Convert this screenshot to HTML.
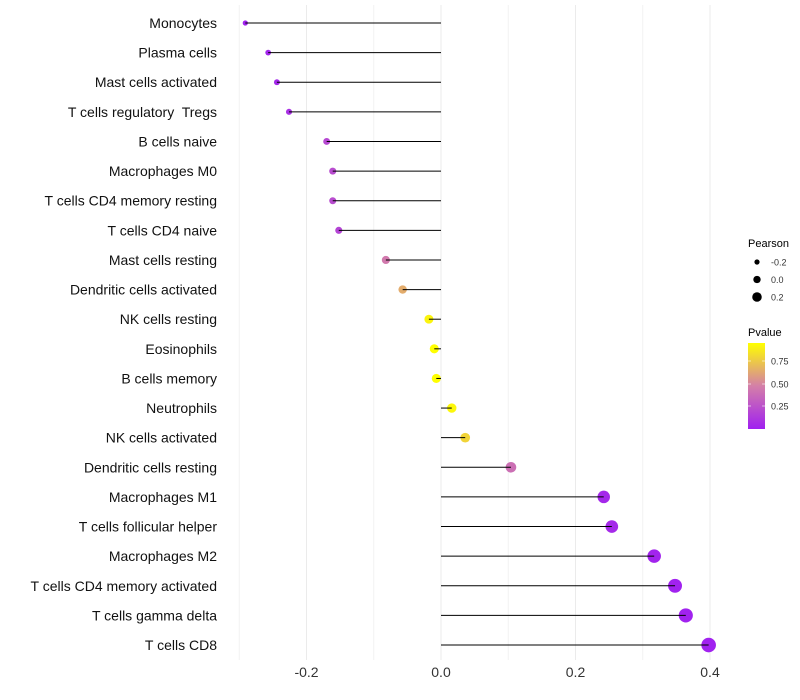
<!DOCTYPE html>
<html><head><meta charset="utf-8"><style>
body{margin:0;background:#fff;font-family:"Liberation Sans",sans-serif}
svg{display:block}
text{white-space:pre}
</style></head><body>
<svg id="c" width="800" height="700">
<defs><linearGradient id="pg" x1="0" y1="1" x2="0" y2="0">
<stop offset="0" stop-color="#a020f0"/><stop offset="0.5" stop-color="#d47fa8"/><stop offset="1" stop-color="#ffff00"/></linearGradient></defs>
</svg>
<script>
const categories=["Monocytes","Plasma cells","Mast cells activated","T cells regulatory  Tregs","B cells naive","Macrophages M0","T cells CD4 memory resting","T cells CD4 naive","Mast cells resting","Dendritic cells activated","NK cells resting","Eosinophils","B cells memory","Neutrophils","NK cells activated","Dendritic cells resting","Macrophages M1","T cells follicular helper","Macrophages M2","T cells CD4 memory activated","T cells gamma delta","T cells CD8"];
const pearson=[-0.291,-0.257,-0.244,-0.226,-0.170,-0.161,-0.161,-0.152,-0.082,-0.057,-0.018,-0.010,-0.007,0.016,0.036,0.104,0.242,0.254,0.317,0.348,0.364,0.398];
const pvalue=[0.01,0.03,0.04,0.08,0.2,0.22,0.22,0.18,0.45,0.65,0.92,0.96,0.97,0.93,0.8,0.4,0.04,0.05,0.02,0.01,0.01,0.01];
const xTicks=[-0.2,0.0,0.2,0.4];
const xMinor=[-0.3,-0.1,0.1,0.3];
const NS="http://www.w3.org/2000/svg";
const svg=document.getElementById('c');
const x=v=>441+v*672.5;
const y=i=>23+i*29.62;
function mk(t,a,p){const e=document.createElementNS(NS,t);for(const k in a)e.setAttribute(k,a[k]);(p||svg).appendChild(e);return e;}
function lerp(a,b,t){return a.map((v,i)=>Math.round(v+(b[i]-v)*t));}
function col(p){const c0=[160,32,240],c1=[212,127,168],c2=[255,255,0];const t=Math.max(0,Math.min(1,p/0.96));const c=t<0.5?lerp(c0,c1,t*2):lerp(c1,c2,(t-0.5)*2);return `rgb(${c})`;}
const rad=p=>Math.max(1.5,4.6+6.8*p);
xMinor.forEach(v=>{const l=mk('line',{x1:x(v),x2:x(v),y1:5,y2:660,stroke:'#f2f2f2','stroke-width':1});
});
xTicks.forEach(v=>{const l=mk('line',{x1:x(v),x2:x(v),y1:5,y2:660,stroke:'#ebebeb','stroke-width':1});

const t=mk('text',{x:x(v),y:677,'text-anchor':'middle','font-size':14,fill:'#333'});t.textContent=v.toFixed(1);
});
categories.forEach((c,i)=>{
const t=mk('text',{x:217,y:y(i)+5,'text-anchor':'end','font-size':14,fill:'#111'});t.textContent=c;

const d=mk('circle',{cx:x(pearson[i]),cy:y(i),r:rad(pearson[i]),fill:col(pvalue[i])});

const l=mk('line',{x1:x(0),x2:x(pearson[i]),y1:y(i),y2:y(i),stroke:'#000','stroke-width':1});

});
const sizeVals=[-0.2,0.0,0.2];
let t=mk('text',{x:748,y:247,'font-size':11,fill:'#000'});t.textContent='Pearson';

sizeVals.forEach((v,i)=>{const cy=262+i*17.5;
const c=mk('circle',{cx:757,cy:cy,r:rad(v)*0.8,fill:'#000'});
const s=mk('text',{x:771,y:cy+3.5,'font-size':9,fill:'#333'});s.textContent=v.toFixed(1);});
t=mk('text',{x:748,y:336,'font-size':11,fill:'#000'});t.textContent='Pvalue';

const r=mk('rect',{x:748,y:343,width:17,height:86,fill:'url(#pg)'});
[[0.75,361],[0.5,384],[0.25,406]].forEach(([v,yy])=>{
mk('line',{x1:748,x2:751,y1:yy,y2:yy,stroke:'#fff','stroke-width':0.6});mk('line',{x1:762,x2:765,y1:yy,y2:yy,stroke:'#fff','stroke-width':0.6});
const s=mk('text',{x:771,y:yy+3.5,'font-size':9,fill:'#333'});s.textContent=v.toFixed(2);});
</script>
</body></html>
